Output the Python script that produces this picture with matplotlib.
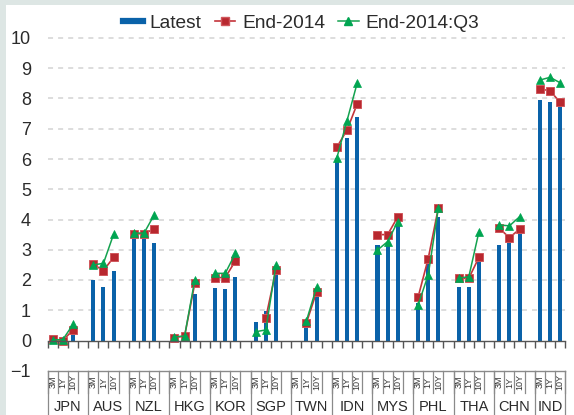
import numpy as np
import matplotlib
matplotlib.use("Agg")
import matplotlib.pyplot as plt
from matplotlib.lines import Line2D
from matplotlib.patches import Rectangle

plt.rcParams['font.family'] = ['Liberation Sans', 'DejaVu Sans']

countries = ["JPN", "AUS", "NZL", "HKG", "KOR", "SGP", "TWN", "IDN", "MYS", "PHL", "THA", "CHN", "IND"]
tenors = ["3M", "1Y", "10Y"]
nan = np.nan

latest = [0.00, 0.01, 0.33,
          2.00, 1.78, 2.31,
          3.55, 3.52, 3.21,
          0.05, 0.10, 1.54,
          1.72, 1.70, 2.11,
          0.62, 0.99, 2.22,
          nan, 0.46, 1.54,
          6.02, 6.70, 7.38,
          3.16, 3.22, 3.90,
          1.25, 2.60, 4.07,
          1.78, 1.78, 2.66,
          3.16, 3.32, 3.65,
          7.95, 7.90, 7.80]

end2014 = [0.04, 0.00, 0.35,
           2.52, 2.31, 2.75,
           3.53, 3.53, 3.69,
           0.09, 0.15, 1.89,
           2.08, 2.08, 2.63,
           nan, 0.75, 2.33,
           nan, 0.58, 1.61,
           6.39, 6.96, 7.82,
           3.50, 3.50, 4.09,
           1.43, 2.71, 4.39,
           2.06, 2.06, 2.75,
           3.71, 3.40, 3.68,
           8.31, 8.26, 7.87]

end2014q3 = [0.02, 0.03, 0.53,
             2.50, 2.55, 3.51,
             3.55, 3.55, 4.15,
             0.12, 0.15, 2.00,
             2.22, 2.22, 2.88,
             0.29, 0.35, 2.50,
             nan, 0.65, 1.76,
             6.04, 7.27, 8.51,
             2.99, 3.27, 3.93,
             1.17, 2.17, 4.38,
             2.06, 2.11, 3.60,
             3.82, 3.79, 4.09,
             8.61, 8.70, 8.52]

yticks = list(range(-1, 11))

W, H = 574, 415
fig = plt.figure(figsize=(W / 100, H / 100), dpi=100)
fig.patch.set_facecolor('#dde6e4')
fig.patches.append(Rectangle((6 / W, 0), 1, 1 - 5 / H, transform=fig.transFigure,
                             facecolor='white', edgecolor='none', zorder=-10))

ng = len(countries)
nslots = ng * 4 - 1
x_left_px, slot_px = 47.6, 10.15
zero_px, unit_px = 340.5, 30.25
ytop = 10.6
ax_top_px = zero_px - ytop * unit_px
ax_bot_px = zero_px + unit_px
ax = fig.add_axes([x_left_px / W, (H - ax_bot_px) / H, nslots * slot_px / W,
                   (ax_bot_px - ax_top_px) / H])
ax.set_facecolor('none')
ax.set_xlim(-0.5, nslots - 0.5)
ax.set_ylim(-1, ytop)

blue = '#0a62a9'
red = '#b8282f'
green = '#00a551'
ms = 5.8

xs = []
for g in range(ng):
    for i in range(3):
        xs.append(g * 4 + i)
xs = np.array(xs, dtype=float)

ax.bar(xs, latest, width=0.4, color=blue, zorder=3)
for g in range(ng):
    sl = slice(g * 3, g * 3 + 3)
    ax.plot(xs[sl], end2014[sl], color='#c4343b', lw=1.2, marker='s', ms=ms,
            mfc=red, mec='#d0575c', mew=0.7, zorder=4)
    ax.plot(xs[sl], end2014q3[sl], color='#14a24f', lw=1.1, marker='^', ms=ms,
            mfc=green, mec=green, mew=0.5, zorder=5)

for y in range(1, 11):
    ax.axhline(y, color='#d3d3d3', lw=1.1, dashes=(3.3, 3.3), zorder=1)

for s in ['top', 'right', 'left']:
    ax.spines[s].set_visible(False)
ax.spines['bottom'].set_position(('data', 0))
ax.spines['bottom'].set_color('#555555')
ax.spines['bottom'].set_linewidth(1.0)
ax.spines['bottom'].set_zorder(6)
ax.set_xticks(np.arange(-0.5, nslots, 1.0))
ax.set_xticklabels([])
ax.tick_params(axis='x', direction='out', length=5, width=1.0, color='#555555')
ax.set_yticks(yticks)
ax.set_yticklabels([("\u2212%d" % -v) if v < 0 else str(v) for v in yticks])
ax.tick_params(axis='y', length=0, pad=12, labelsize=13, labelcolor='#2b2b2b')

# label box below
lab = fig.add_axes([x_left_px / W, 0, nslots * slot_px / W, (H - ax_bot_px) / H])
lab.set_xlim(-0.5, nslots - 0.5)
hb = H - ax_bot_px
lab.set_ylim(0, hb)
lab.axis('off')
lc = '#8a8a8a'
lab.plot([-0.5, nslots - 0.5], [hb, hb], color=lc, lw=1.0, clip_on=False)
row_bot = hb - 22.5
for b in np.arange(-0.5, nslots, 1.0):
    lab.plot([b, b], [hb, row_bot], color=lc, lw=0.9, clip_on=False)
for g in range(ng + 1):
    b = min(g * 4 - 0.5, nslots - 0.5)
    lab.plot([b, b], [hb, -2], color=lc, lw=0.9, clip_on=False)
for g, c in enumerate(countries):
    for i, t in enumerate(tenors):
        lab.text(g * 4 + i, (hb + row_bot) / 2, t, rotation=90, ha='center', va='center',
                 fontsize=6.5, color='#333333')
    cx = min(g * 4 + 1.5, (g * 4 - 0.5 + nslots - 0.5) / 2)
    lab.text(cx, hb - 36.5, c, ha='center', va='center', fontsize=10.5, color='#2b2b2b')

handles = [Line2D([], [], color=blue, lw=4.5),
           Line2D([], [], color='#c4343b', lw=1.2, marker='s', ms=ms, mfc=red, mec='#d0575c'),
           Line2D([], [], color='#14a24f', lw=1.1, marker='^', ms=ms, mfc=green, mec=green)]
fig.legend(handles, ["Latest", "End-2014", "End-2014:Q3"], loc='center',
           bbox_to_anchor=(301 / W, 1 - 23 / H), ncol=3, frameon=False, fontsize=13.8,
           handlelength=1.05, handletextpad=0.35, columnspacing=0.7, labelcolor='#2b2b2b')

fig.savefig('out.png', dpi=100, facecolor=fig.get_facecolor())
